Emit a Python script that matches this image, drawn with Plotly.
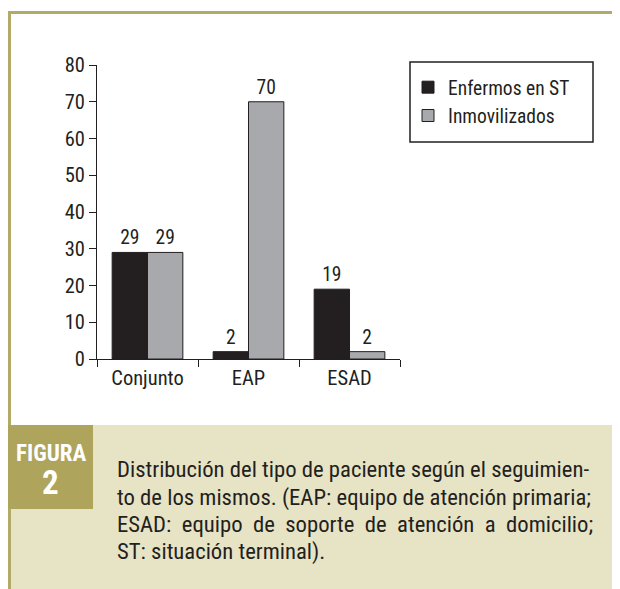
import plotly.graph_objects as go

categories = ["Conjunto", "EAP", "ESAD"]
enfermos_st = [29, 2, 19]
inmovilizados = [29, 70, 2]
series_names = ["Enfermos en ST", "Inmovilizados"]
y_ticks = [0, 10, 20, 30, 40, 50, 60, 70, 80]

NB = "\u00a0 "
caption_lines = [
    "Distribución del tipo de paciente según el seguimien-",
    "to de los mismos. (EAP: equipo de atención primaria;",
    NB.join("ESAD: equipo de soporte de atención a domicilio;".split(" ")),
    "ST: situación terminal).",
]

# the page body adds an 8px margin; positions below are in window pixels
OFF = 8
WIN_W, WIN_H = 620, 589
FIG_W, FIG_H = WIN_W - OFF, WIN_H - OFF
PLOT_L, PLOT_R, PLOT_T, PLOT_B = 97, 400, 65, 359   # window px
L = PLOT_L - OFF
R = FIG_W - (PLOT_R - OFF)
T = PLOT_T - OFF
B = FIG_H - (PLOT_B - OFF)
PW = PLOT_R - PLOT_L
PH = PLOT_B - PLOT_T

FONT = "Liberation Sans Narrow, Arial Narrow, Roboto Condensed, Liberation Sans, sans-serif"
TXT = "#231f20"
OLIVE = "#aea45c"
FRAME = "#b3aa68"
BEIGE = "#e7e3c5"


def fx(px):
    return (px - PLOT_L) / PW


def fy(py):
    return (PLOT_B - py) / PH


fig = go.Figure()
fig.add_trace(go.Bar(
    x=categories, y=enfermos_st, name=series_names[0],
    marker=dict(color="#231f20", line=dict(color="#231f20", width=1)),
    text=[str(v) for v in enfermos_st], textposition="outside",
    textfont=dict(family=FONT, size=19.5, color=TXT), cliponaxis=False,
))
fig.add_trace(go.Bar(
    x=categories, y=inmovilizados, name=series_names[1],
    marker=dict(color="#a7a9ac", line=dict(color="#231f20", width=1)),
    text=[str(v) for v in inmovilizados], textposition="outside",
    textfont=dict(family=FONT, size=19.5, color=TXT), cliponaxis=False,
))

shapes = [
    # caption background
    dict(type="rect", xref="paper", yref="paper", x0=fx(9), x1=fx(WIN_W + 2), y0=fy(425), y1=fy(WIN_H + 2),
         fillcolor=BEIGE, line=dict(width=0), layer="below"),
    # frame
    dict(type="line", xref="paper", yref="paper", x0=fx(8), x1=fx(WIN_W + 2), y0=fy(12.5), y1=fy(12.5),
         line=dict(color=FRAME, width=3)),
    dict(type="line", xref="paper", yref="paper", x0=fx(9.5), x1=fx(9.5), y0=fy(11), y1=fy(WIN_H + 2),
         line=dict(color=FRAME, width=3)),
    # FIGURA box
    dict(type="rect", xref="paper", yref="paper", x0=fx(8), x1=fx(93), y0=fy(425), y1=fy(509),
         fillcolor=OLIVE, line=dict(width=0)),
    # legend box
    dict(type="rect", xref="paper", yref="paper", x0=fx(410), x1=fx(593), y0=fy(62), y1=fy(142),
         fillcolor="rgba(0,0,0,0)", line=dict(color=TXT, width=1.5)),
]

annotations = [
    dict(text="<b>FIGURA</b>", x=fx(50.5), y=fy(453), xref="paper", yref="paper",
         xanchor="center", yanchor="middle", showarrow=False,
         font=dict(family=FONT, size=23, color="white")),
    dict(text="<b>2</b>", x=fx(50.5), y=fy(482), xref="paper", yref="paper",
         xanchor="center", yanchor="middle", showarrow=False,
         font=dict(family=FONT, size=33, color="white")),
]
for i, line in enumerate(caption_lines):
    annotations.append(dict(
        text=line, x=fx(115), y=fy(470 + 27 * i), xref="paper", yref="paper",
        xanchor="left", yanchor="middle", showarrow=False,
        font=dict(family=FONT, size=22.7, color=TXT)))

fig.update_layout(
    width=FIG_W, height=FIG_H,
    margin=dict(l=L, r=R, t=T, b=B, pad=0),
    paper_bgcolor="white", plot_bgcolor="white",
    barmode="group", bargap=0.3, bargroupgap=0,
    font=dict(family=FONT, size=20, color=TXT),
    showlegend=True,
    legend=dict(x=fx(408), y=fy(68), xanchor="left", yanchor="top",
                bgcolor="rgba(0,0,0,0)", borderwidth=0,
                font=dict(family=FONT, size=19.5, color=TXT), tracegroupgap=0),
    xaxis=dict(showline=True, linecolor=TXT, linewidth=1, ticks="outside",
               tickson="boundaries", ticklen=7, tickcolor=TXT, tickwidth=1,
               showgrid=False, zeroline=False, fixedrange=True,
               tickfont=dict(family=FONT, size=20.5, color=TXT)),
    yaxis=dict(range=[0, 80], tickvals=y_ticks, showline=True, linecolor=TXT, linewidth=1,
               ticks="outside", ticklen=7, tickcolor=TXT, tickwidth=1,
               showgrid=False, zeroline=False, fixedrange=True,
               tickfont=dict(family=FONT, size=20.5, color=TXT)),
    shapes=shapes, annotations=annotations,
)

fig.write_html("out.html", config={"displayModeBar": False})
